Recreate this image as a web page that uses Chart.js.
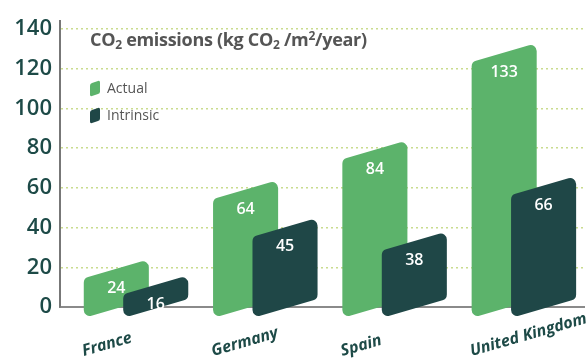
<!DOCTYPE html>
<html>
<head>
<meta charset="utf-8">
<script src="https://cdn.jsdelivr.net/npm/chart.js@4"></script>
<style>
  html, body { margin: 0; padding: 0; background: #fff; }
  #wrap { position: relative; width: 586px; height: 360px; }
  #title { position: absolute; left: 90px; top: 27px; font: bold 18px "Open Sans"; color: #555; white-space: nowrap; letter-spacing: -0.3px; }
  #title sub { font-size: 12px; vertical-align: -3px; line-height: 0; }
  #title sup { font-size: 12px; vertical-align: 6px; line-height: 0; }
  .leg { position: absolute; left: 90px; font: 14px "Open Sans"; color: #555; white-space: nowrap; }
  .leg i { display: inline-block; width: 10px; height: 13px; border-radius: 2px; transform: skewY(-18deg); vertical-align: -2px; margin-right: 7px; }
</style>
</head>
<body>
<div id="wrap">
  <canvas id="co2Chart" width="586" height="360"></canvas>
  <div id="title">CO<sub>2</sub> emissions (kg CO<sub>2</sub> /m<sup>2</sup>/year)</div>
  <div class="leg" style="top:78px"><i style="background:#5cb36b"></i>Actual</div>
  <div class="leg" style="top:105px"><i style="background:#1f4747"></i>Intrinsic</div>
</div>
<script>
// data
const categories = ['France', 'Germany', 'Spain', 'United Kingdom'];
const actual = [24, 64, 84, 133];
const intrinsic = [16, 45, 38, 66];
const yTicks = [0, 20, 40, 60, 80, 100, 120, 140];

const GREEN = '#5cb36b';
const DARK = '#1f4747';
const SKEW = 19;

// path through the corners with rounded joins
function roundedPoly(ctx, pts, r) {
    const n = pts.length;
    ctx.beginPath();
    ctx.moveTo((pts[n - 1][0] + pts[0][0]) / 2, (pts[n - 1][1] + pts[0][1]) / 2);
    for (let k = 0; k < n; k++) {
        const p = pts[k], q = pts[(k + 1) % n];
        ctx.arcTo(p[0], p[1], (p[0] + q[0]) / 2, (p[1] + q[1]) / 2, r);
    }
    ctx.closePath();
}

// slanted bars + value labels
const slantedBars = {
    id: 'slantedBars',
    beforeDatasetsDraw(chart) {
        const ctx = chart.ctx;
        const base = chart.scales.y.getPixelForValue(0);
        ctx.save();
        chart.data.datasets.forEach((ds, di) => {
            chart.getDatasetMeta(di).data.forEach(bar => {
                const l = bar.x - bar.width / 2, r = bar.x + bar.width / 2;
                roundedPoly(ctx, [[l, bar.y + SKEW], [r, bar.y], [r, base - 8], [l, base + 11]], 6);
                ctx.fillStyle = ds.backgroundColor;
                ctx.fill();
            });
        });
        ctx.fillStyle = '#fff';
        ctx.font = '600 16px "Open Sans"';
        ctx.textAlign = 'center';
        ctx.textBaseline = 'middle';
        chart.data.datasets.forEach((ds, di) => {
            chart.getDatasetMeta(di).data.forEach((bar, i) => {
                ctx.fillText(ds.data[i].y, bar.x, bar.y + 29);
            });
        });
        ctx.restore();
        return false;
    },
    afterDraw(chart) {
        // country names, tilted, starting at the left edge of the Actual bar
        const ctx = chart.ctx;
        ctx.save();
        ctx.fillStyle = '#1d4a47';
        ctx.font = 'italic bold 16px "Open Sans"';
        ctx.textAlign = 'left';
        ctx.textBaseline = 'alphabetic';
        chart.getDatasetMeta(0).data.forEach((bar, i) => {
            ctx.save();
            ctx.translate(bar.x - bar.width / 2, 356);
            ctx.rotate(-16 * Math.PI / 180);
            ctx.fillText(categories[i], 0, 0);
            ctx.restore();
        });
        ctx.restore();
    }
};

const ctx = document.getElementById('co2Chart').getContext('2d');
const co2Chart = new Chart(ctx, {
    type: 'bar',
    data: {
        datasets: [{
            label: 'Actual',
            data: actual.map((v, i) => ({ x: i, y: v })),
            backgroundColor: GREEN
        }, {
            label: 'Intrinsic',
            data: intrinsic.map((v, i) => ({ x: i, y: v })),
            backgroundColor: DARK
        }]
    },
    options: {
        responsive: false,
        animation: false,
        events: [],
        categoryPercentage: 0.61,
        barPercentage: 1.65,
        layout: { padding: { top: 10, right: 2, left: 0, bottom: 0 } },
        plugins: {
            legend: { display: false },
            tooltip: { enabled: false }
        },
        scales: {
            x: {
                type: 'linear',
                offset: false,
                min: -0.588,
                max: 3.465,
                afterBuildTicks: scale => { scale.ticks = categories.map((c, i) => ({ value: i })); },
                afterFit: scale => { scale.height = 53; },
                ticks: { display: false },
                grid: { display: false, offset: false },
                border: { display: true, color: '#8a8a8a', width: 2 }
            },
            y: {
                min: 0,
                max: 144,
                afterBuildTicks: scale => { scale.ticks = yTicks.map(v => ({ value: v })); },
                afterFit: scale => { scale.width = 60; },
                ticks: {
                    padding: 8,
                    color: '#1d4a47',
                    font: { family: 'Open Sans', size: 22, weight: '600' }
                },
                grid: {
                    color: '#c9dc8e',
                    lineWidth: 1.5,
                    drawTicks: false
                },
                border: { display: true, color: '#777', width: 2, dash: [2, 3] }
            }
        }
    },
    plugins: [slantedBars]
});
</script>
</body>
</html>
